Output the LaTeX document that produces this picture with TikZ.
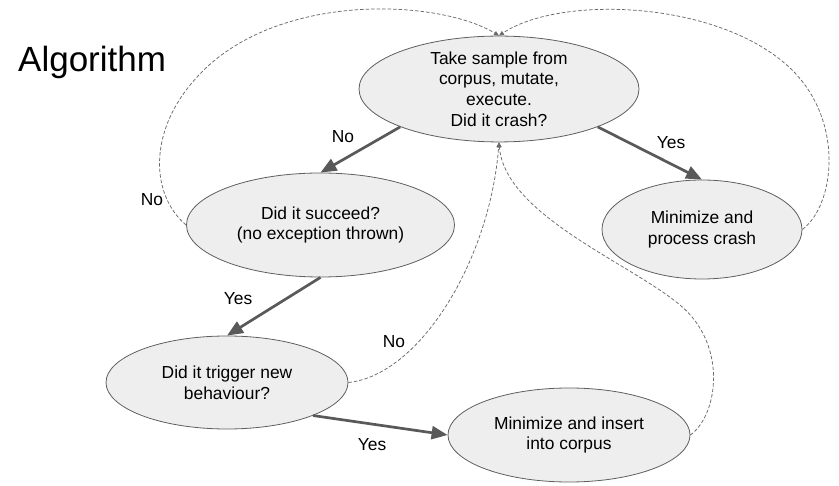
\documentclass[tikz,border=0pt]{standalone}
\usepackage{fontspec}
\setmainfont{Liberation Sans}
\usetikzlibrary{shapes.geometric,arrows.meta}
\definecolor{efill}{HTML}{EEEEEE}
\definecolor{edraw}{HTML}{5F5F5F}
\definecolor{arr}{HTML}{595959}
\definecolor{dsh}{HTML}{6A6A6A}
\tikzset{
  bubble/.style={ellipse, draw=edraw, fill=efill, line width=0.8pt, inner sep=0pt,
    align=center, font=\fontsize{17.4}{20.7}\selectfont},
  solidarrow/.style={draw=arr, line width=2.7pt, -{Triangle[length=16pt,width=13pt]}},
  dasharrow/.style={draw=dsh, line width=0.75pt, dash pattern=on 3.5pt off 2pt,
    -{Triangle[length=5pt,width=4.5pt]}},
  lbl/.style={font=\fontsize{17.4}{20.7}\selectfont, inner sep=0pt},
}
\begin{document}
\begin{tikzpicture}[x=1pt,y=-1pt]
\useasboundingbox (0,0) rectangle (839,486);
\node[anchor=base west, inner sep=0pt, font=\fontsize{35}{40}\selectfont] (title) at (18,72) {Algorithm};

\node[bubble, minimum width=280pt, minimum height=104pt] (top) at (499,89)
  {Take sample from\\corpus, mutate,\\execute.\\Did it crash?};
\node[bubble, minimum width=268pt, minimum height=104pt] (succ) at (320.5,225)
  {Did it succeed?\\(no exception thrown)};
\node[bubble, minimum width=200pt, minimum height=99pt] (crash) at (702,229.5)
  {Minimize and\\process crash};
\node[bubble, minimum width=242pt, minimum height=93pt] (trig) at (227,382.5)
  {Did it trigger new\\behaviour?};
\node[bubble, minimum width=242pt, minimum height=94pt] (ins) at (569,435)
  {Minimize and insert\\into corpus};

% solid arrows
\draw[solidarrow] (top.201) -- (succ.north);
\draw[solidarrow] (top.-21) -- (crash.north);
\draw[solidarrow] (succ.south) -- (trig.north);
\draw[solidarrow] (trig.-21) -- (ins.west);

% dashed arrows
\draw[dasharrow] (succ.west) .. controls (150,195) and (145,125) .. (207,67)
  .. controls (288,-8) and (440,0) .. (top.north);
\draw[dasharrow] (crash.east) .. controls (835,205) and (845,120) .. (790,68)
  .. controls (718,0) and (560,-5) .. (top.north);
\draw[dasharrow] (trig.east) .. controls (420,375) and (490,260) .. (top.south);
\draw[dasharrow] (ins.east) .. controls (718,415) and (728,345) .. (680,305)
  .. controls (630,263) and (505,215) .. (top.south);

% labels
\node[lbl] (l1) at (343,137) {No};
\node[lbl] (l2) at (671,143) {Yes};
\node[lbl] (l3) at (152,200) {No};
\node[lbl] (l4) at (238,299) {Yes};
\node[lbl] (l5) at (394,342) {No};
\node[lbl] (l6) at (372,445) {Yes};
\end{tikzpicture}
\end{document}
